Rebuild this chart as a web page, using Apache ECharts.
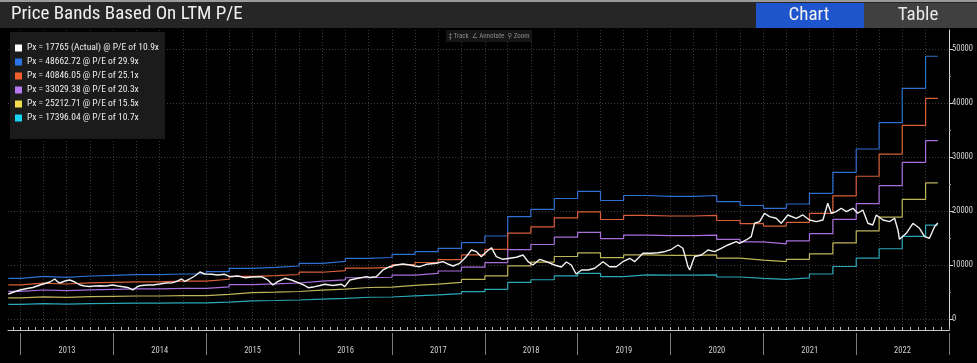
<!DOCTYPE html>
<html>
<head>
<meta charset="utf-8">
<script src="https://cdn.jsdelivr.net/npm/echarts@6/dist/echarts.min.js"></script>
<style>
html,body{margin:0;padding:0;background:#000;}
#c{width:977px;height:363px;}
</style>
</head>
<body>
<div id="c"></div>
<script>
// ---------------- DATA ----------------
const titleText = 'Price Bands Based On LTM P/E';
const seriesNames = [
  'Px = 17765 (Actual) @ P/E of 10.9x',
  'Px = 48662.72 @ P/E of 29.9x',
  'Px = 40846.05 @ P/E of 25.1x',
  'Px = 33029.38 @ P/E of 20.3x',
  'Px = 25212.71 @ P/E of 15.5x',
  'Px = 17396.04 @ P/E of 10.7x'
];
const yearLabels = ['2013','2014','2015','2016','2017','2018','2019','2020','2021','2022'];
const yTickValues = [0, 10000, 20000, 30000, 40000, 50000];
const yMinorValues = [5000, 15000, 25000, 35000, 45000];

// band step dates (start of each LTM quarter, plus last date)
const bandDates = ['2012-11-13',
 '2013-01-01','2013-04-01','2013-07-01','2013-10-01',
 '2014-01-01','2014-04-01','2014-07-01','2014-10-01',
 '2015-01-01','2015-04-01','2015-07-01','2015-10-01',
 '2016-01-01','2016-04-01','2016-07-01','2016-10-01',
 '2017-01-01','2017-04-01','2017-07-01','2017-10-01',
 '2018-01-01','2018-04-01','2018-07-01','2018-10-01',
 '2019-01-01','2019-04-01','2019-07-01','2019-10-01',
 '2020-01-01','2020-04-01','2020-07-01','2020-10-01',
 '2021-01-01','2021-04-01','2021-07-01','2021-10-01',
 '2022-01-01','2022-04-01','2022-07-01','2022-10-01','2022-11-18'];

const band299 = [7538, 7908,7723,7964,8093, 8204,8204,8334,8334, 8760,9390,9575,9816, 10316,10686,11242,11390,
 11982,12464,13094,14131, 15372,18946,20316,22317, 23650,21946,22872,22724, 22724,22872,21724,21020,
 20502,21298,23280,27169, 31484,36355,42726,48662.72, 48662.72];
const band251 = [6328, 6638,6483,6685,6794, 6887,6887,6996,6996, 7354,7883,8038,8240, 8660,8971,9437,9562,
 10058,10463,10992,11862, 12904,15904,17055,18734, 19853,18423,19200,19076, 19076,19200,18236,17645,
 17211,17879,19543,22807, 26430,30518,35867,40846.05, 40846.05];
const band203 = [5118, 5369,5243,5407,5495, 5570,5570,5658,5658, 5947,6375,6501,6664, 7004,7255,7633,7733,
 8135,8462,8890,9594, 10437,12863,13793,15152, 16057,14900,15529,15428, 15428,15529,14749,14271,
 13919,14460,15806,18446, 21376,24683,29008,33029.38, 33029.38];
const band155 = [3908, 4099,4004,4128,4195, 4253,4253,4320,4320, 4541,4868,4964,5089, 5348,5540,5828,5905,
 6211,6461,6788,7325, 7969,9822,10532,11569, 12260,11377,11857,11780, 11780,11857,11262,10897,
 10628,11041,12068,14084, 16321,18846,22149,25212.71, 25212.71];
const band107 = [2698, 2830,2764,2850,2896, 2936,2936,2982,2982, 3135,3360,3427,3513, 3692,3824,4023,4076,
 4288,4460,4686,5057, 5501,6780,7270,7986, 8463,7854,8185,8132, 8132,8185,7774,7522,
 7337,7622,8331,9723, 11267,13010,15290,17396.04, 17396.04];

const actualDates = [
 '2012-11-13','2012-12-05','2012-12-29','2013-01-26','2013-02-18','2013-03-18','2013-04-13','2013-04-26','2013-05-15','2013-05-27','2013-06-04','2013-06-24','2013-07-13','2013-08-02','2013-08-22','2013-09-10','2013-09-30','2013-10-20','2013-11-08','2013-12-02','2013-12-29',
 '2014-01-18','2014-02-07','2014-02-26','2014-03-18','2014-04-03','2014-04-15','2014-05-12','2014-06-05','2014-07-02','2014-07-26','2014-08-22','2014-09-11','2014-09-26','2014-10-09','2014-10-28','2014-11-17','2014-12-07','2014-12-26',
 '2015-01-22','2015-02-15','2015-03-15','2015-04-04','2015-05-05','2015-06-02','2015-06-29','2015-08-06','2015-08-31','2015-09-20','2015-10-09','2015-11-06','2015-12-02',
 '2016-01-04','2016-01-20','2016-02-06','2016-03-03','2016-03-23','2016-04-11','2016-05-13','2016-06-16','2016-06-29','2016-07-19','2016-08-20','2016-09-22','2016-10-05','2016-10-31','2016-11-26','2016-12-23',
 '2017-01-18','2017-02-13','2017-03-12','2017-03-31','2017-04-20','2017-05-16','2017-06-24','2017-07-20','2017-08-08','2017-08-29','2017-09-24','2017-10-20','2017-11-09','2017-11-29','2017-12-18',
 '2018-01-07','2018-01-27','2018-02-15','2018-03-13','2018-04-09','2018-05-05','2018-05-31','2018-06-20','2018-07-09','2018-08-05','2018-08-31','2018-10-02','2018-10-29','2018-11-18','2018-12-07','2018-12-26',
 '2019-01-16','2019-02-11','2019-03-09','2019-04-11','2019-05-07','2019-06-02','2019-06-28','2019-07-25','2019-08-13','2019-09-15','2019-10-18','2019-11-13','2019-12-09',
 '2020-01-05','2020-01-31','2020-02-19','2020-03-01','2020-03-10','2020-03-17','2020-03-28','2020-04-05','2020-05-02','2020-05-28','2020-06-23','2020-07-19','2020-08-14','2020-09-16','2020-09-29','2020-10-25','2020-11-14','2020-11-27','2020-12-17',
 '2021-01-05','2021-01-25','2021-02-20','2021-03-12','2021-04-07','2021-05-10','2021-06-05','2021-07-01','2021-07-28','2021-08-23','2021-09-11','2021-09-25','2021-10-14','2021-11-03','2021-11-23','2021-12-19',
 '2022-01-07','2022-01-27','2022-02-16','2022-03-07','2022-03-21','2022-04-16','2022-05-12','2022-06-01','2022-06-14','2022-06-20','2022-07-17','2022-08-12','2022-09-07','2022-09-27','2022-10-16','2022-11-05','2022-11-18'];
const actualValues = [
 4630,5000,5371,5649,5834,6297,6667,6852,7408,6852,6667,7038,7223,6852,6297,6112,6019,6112,6167,6112,6297,
 6112,5982,5834,5371,5926,6167,6297,6297,6482,6667,6723,7038,7408,6945,7408,7964,8704,8334,
 8278,8149,8278,7834,7964,7649,7778,7834,7223,6297,6908,7538,7223,
 6612,6297,5797,5982,6204,6426,6204,6426,5982,7223,7538,7834,7686,7834,9075,9686,
 10001,10186,10001,9816,9686,10130,10316,10612,10186,9816,10316,11538,12779,12464,11538,
 12464,13205,11538,11056,11242,11427,11853,10612,10001,11056,10612,10001,9630,10556,10001,8334,
 9075,9075,9390,10612,9686,9686,10612,11242,10612,12168,12168,12279,12464,
 12908,13705,13094,11297,9686,9075,10556,11538,11853,12779,12464,13094,13705,14316,14020,14631,15242,17724,18020,
 19576,18946,18650,17724,19261,18650,19261,18335,18020,18335,21428,19576,19872,20502,19872,20502,
 19576,20187,17724,17409,19261,18335,18020,18650,16483,14760,15872,17724,16798,15242,14946,17094,17765];

// ---------------- STYLE ----------------
const FONT = "'Liberation Sans Narrow','Roboto Condensed','DejaVu Sans Condensed','Liberation Sans',sans-serif";
const lineColors = ['#f2f2f2', '#2f6fd0', '#d95f3a', '#a86fdc', '#beb45a', '#2aa8b8'];
const legendColors = ['#ffffff', '#2b74e8', '#f0602e', '#b878f0', '#f2de4a', '#18d6f2'];
const ts = s => Date.parse(s + 'T00:00:00Z');   // date string -> timestamp (UTC)
const X_MIN = ts('2012-11-12'), X_MAX = ts('2023-01-01');

// calendar-based axis tick positions
const monthTicks = [], quarterTicks = [], yearTicks = [], yearMid = [];
for (let y = 2012; y <= 2023; y++) {
  for (let m = 1; m <= 12; m++) {
    const t = ts(y + '-' + String(m).padStart(2, '0') + '-01');
    if (t < X_MIN || t > X_MAX) continue;
    monthTicks.push(t);
    if ((m - 1) % 3 === 0) quarterTicks.push(t);
    if (m === 1) yearTicks.push(t);
  }
}
yearLabels.forEach(y => yearMid.push(ts(y + '-07-02')));

const pair = (dates, vals) => dates.map((d, i) => [ts(d), vals[i]]);
const bands = [band299, band251, band203, band155, band107];

const series = bands.map((b, i) => ({
  name: seriesNames[i + 1], type: 'line', step: 'end', data: pair(bandDates, b),
  symbol: 'none', showSymbol: false, z: 2,
  lineStyle: { width: 1.2, color: lineColors[i + 1] }, itemStyle: { color: lineColors[i + 1] }
}));
series.push({
  name: seriesNames[0], type: 'line', data: pair(actualDates, actualValues),
  symbol: 'none', showSymbol: false, z: 3,
  lineStyle: { width: 1.4, color: lineColors[0] }, itemStyle: { color: lineColors[0] }
});

const baseX = { type: 'value', min: X_MIN, max: X_MAX, gridIndex: 0, position: 'bottom' };

const option = {
  backgroundColor: '#000',
  animation: false,
  title: { text: titleText, left: 11, top: 5, padding: 0, z: 10,
    textStyle: { color: '#f0f0f0', fontSize: 19, fontWeight: 'normal', fontFamily: FONT } },
  graphic: [
    { type: 'rect', z: 1, shape: { x: 0, y: 0, width: 977, height: 28 }, style: { fill: '#262626' } },
    { type: 'rect', z: 1, shape: { x: 0, y: 0, width: 977, height: 2 }, style: { fill: '#9a9a9a' } },
    { type: 'rect', z: 2, shape: { x: 756, y: 3, width: 108, height: 25 }, style: { fill: '#1f55cc' } },
    { type: 'rect', z: 2, shape: { x: 864, y: 3, width: 113, height: 25 }, style: { fill: '#404040' } },
    { type: 'text', z: 3, x: 809, y: 15.5, style: { text: 'Chart', fill: '#f0f0f0', font: '19px ' + FONT, textAlign: 'center', textVerticalAlign: 'middle' } },
    { type: 'text', z: 3, x: 918, y: 15.5, style: { text: 'Table', fill: '#e8e8e8', font: '19px ' + FONT, textAlign: 'center', textVerticalAlign: 'middle' } },
    { type: 'rect', z: 2, shape: { x: 446, y: 30, width: 86, height: 12 }, style: { fill: '#161616' } },
    { type: 'text', z: 3, x: 489, y: 36, style: { text: '\u2021 Track  \u2220 Annotate  \u26B2 Zoom', fill: '#8a8a8a', font: '7px ' + FONT, textAlign: 'center', textVerticalAlign: 'middle' } }
  ],
  legend: {
    orient: 'vertical', left: 10, top: 32, backgroundColor: '#1b1b1b',
    padding: [11, 6, 16, 5], itemWidth: 7, itemHeight: 7, itemGap: 4, icon: 'rect',
    selectedMode: false,
    textStyle: { color: '#ececec', fontSize: 9.5, fontFamily: FONT },
    data: seriesNames.map((n, i) => ({ name: n, itemStyle: { color: legendColors[i] } }))
  },
  grid: { left: 8, right: 28, top: 30, bottom: 33 },
  xAxis: [
    Object.assign({}, baseX, {
      axisLine: { show: true, onZero: false, lineStyle: { color: '#c8c8c8', width: 1 } },
      axisTick: { show: true, inside: true, length: 3, customValues: monthTicks, lineStyle: { color: '#b0b0b0' } },
      axisLabel: { show: false }, splitLine: { show: false }
    }),
    Object.assign({}, baseX, {
      axisLine: { show: false, onZero: false },
      axisTick: { show: false, customValues: quarterTicks },
      axisLabel: { show: false },
      splitLine: { show: true, lineStyle: { color: '#3a3a3a', width: 1, type: [1, 2] } }
    }),
    Object.assign({}, baseX, {
      offset: 3,
      axisLine: { show: false, onZero: false },
      axisTick: { show: true, inside: false, length: 22, customValues: yearTicks, lineStyle: { color: '#7a7a7a' } },
      axisLabel: { show: true, customValues: yearMid, margin: 13, color: '#cfcfcf', fontSize: 8.5, fontFamily: FONT,
        formatter: v => String(new Date(v).getUTCFullYear()) },
      splitLine: { show: false }
    })
  ],
  yAxis: [
    { type: 'value', position: 'right', min: -2040, max: 53520,
      axisLine: { show: true, onZero: false, lineStyle: { color: '#d8d8d8', width: 1 } },
      axisTick: { show: true, inside: false, length: 4, customValues: yTickValues, lineStyle: { color: '#d8d8d8' } },
      axisLabel: { show: true, customValues: yTickValues, color: '#d4d4d4', fontSize: 8.5, fontFamily: FONT, margin: 3,
        formatter: v => String(v) },
      splitLine: { show: true, lineStyle: { color: '#3a3a3a', width: 1, type: [1, 2] } }
    },
    { type: 'value', position: 'right', min: -2040, max: 53520,
      axisLine: { show: false, onZero: false },
      axisTick: { show: true, inside: false, length: 2, customValues: yMinorValues, lineStyle: { color: '#9a9a9a' } },
      axisLabel: { show: false }, splitLine: { show: false }
    }
  ],
  series: series
};

const chart = echarts.init(document.getElementById('c'), null, { renderer: 'canvas' });
chart.setOption(option);
</script>
</body>
</html>
